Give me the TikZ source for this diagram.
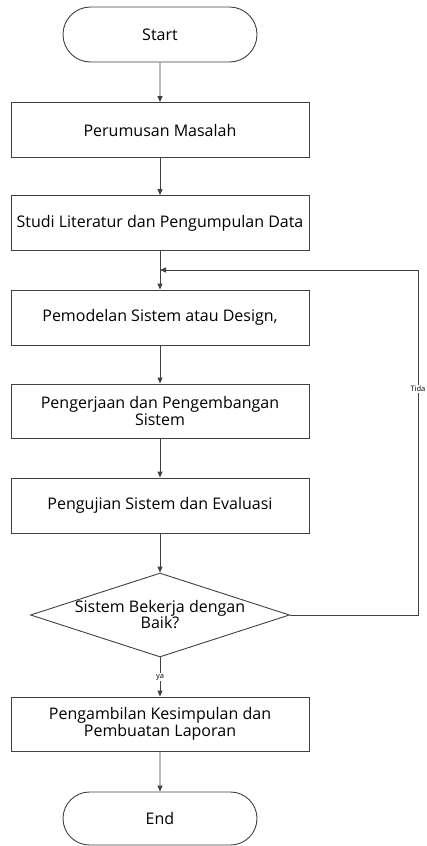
\documentclass[tikz,border=0pt]{standalone}
\usepackage{fontspec}
\setmainfont{Open Sans}
\usetikzlibrary{shapes.misc,shapes.geometric,arrows.meta}
\begin{document}
\begin{tikzpicture}[x=1pt,y=1pt,
  line/.style={draw=black!75, line width=0.9pt},
  arr/.style={line, -{Triangle[length=6pt,width=5pt]}},
  term/.style={line, rounded rectangle, minimum width=194pt, minimum height=55pt, inner sep=0pt, font=\fontsize{16}{17}\selectfont},
  proc/.style={line, rectangle, minimum width=298pt, minimum height=55pt, inner sep=0pt, align=center, font=\fontsize{16}{17}\selectfont},
  lbl/.style={fill=white, inner sep=1pt, font=\fontsize{7.5}{8}\selectfont}
]
\useasboundingbox (0,0) rectangle (427,-846);
\node[term] (start) at (160,-34.5) {Start};
\node[proc] (p1) at (160,-130) {Perumusan Masalah};
\node[proc] (p2) at (160,-223) {Studi Literatur dan Pengumpulan Data};
\node[proc] (p3) at (160,-317.5) {Pemodelan Sistem atau Design,};
\node[proc, minimum height=54pt] (p4) at (160,-411) {Pengerjaan dan Pengembangan\\Sistem};
\node[proc] (p5) at (160,-505.5) {Pengujian Sistem dan Evaluasi};
\node[line, diamond, minimum width=259pt, minimum height=84pt, inner sep=0pt] (dec) at (160,-615) {};
\node[align=center, font=\fontsize{16}{16}\selectfont] (dect) at (160,-615) {Sistem Bekerja dengan\\Baik?};
\node[proc, minimum height=54pt] (p6) at (160,-724) {Pengambilan Kesimpulan dan\\Pembuatan Laporan};
\node[term, minimum height=53pt] (end) at (160,-818.5) {End};
\coordinate (j) at (160,-270);
\coordinate (c1) at (418,-615);
\coordinate (c2) at (418,-270);
\draw[arr] (start) -- (p1);
\draw[arr] (p1) -- (p2);
\draw[arr] (p2) -- (p3);
\draw[arr] (p3) -- (p4);
\draw[arr] (p4) -- (p5);
\draw[arr] (p5) -- (dec);
\draw[arr] (dec) -- node[lbl]{ya} (p6);
\draw[arr] (p6) -- (end);
\draw[arr] (dec.east) -- (c1) -- node[lbl, pos=0.655]{Tida} (c2) -- (j);
\end{tikzpicture}
\end{document}
